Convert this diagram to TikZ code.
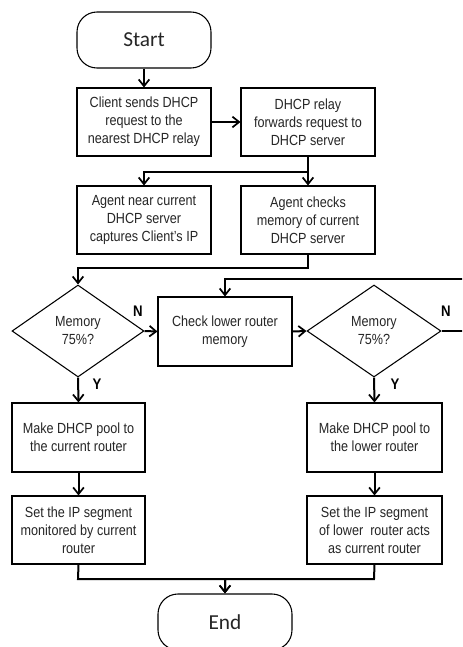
\documentclass[tikz,border=0pt]{standalone}
\usepackage{fontspec}
\setmainfont{Liberation Sans}[FakeStretch=0.86]
\newfontfamily\termfont{Carlito}
\usetikzlibrary{shapes.geometric,arrows.meta}
\begin{document}
\begin{tikzpicture}[x=0.75pt,y=-0.75pt,
  every node/.style={font=\fontsize{11}{13.5}\selectfont, text=black!85},
  procbox/.style={draw, line width=0.8pt, rectangle, minimum width=100.5pt, minimum height=51pt, align=center, inner sep=0pt},
  termbox/.style={draw, line width=0.8pt, rectangle, rounded corners=15pt, minimum width=100.5pt, minimum height=42pt, inner sep=0pt, font=\termfont\fontsize{16}{18}\selectfont},
  decbox/.style={draw, line width=0.8pt, diamond, aspect=1.43, minimum width=99pt, minimum height=69pt, align=center, inner sep=0pt},
  flow/.style={line width=1.5pt, -{Straight Barb[length=5pt,width=8pt,line width=1.3pt]}},
  yn/.style={font=\bfseries\fontsize{11.5}{13}\selectfont, text=black}]
\useasboundingbox (0,0) rectangle (462,647);
\clip (0,0) rectangle (462,647);
\fill[white] (0,0) rectangle (462,647);

\node[termbox] (start) at (144,40) {Start};
\node[procbox] (b1) at (144,122) {Client sends DHCP\\request to the\\nearest DHCP relay};
\node[procbox] (b2) at (308,122) {DHCP relay\\forwards request to\\DHCP server};
\node[procbox] (b3) at (144,220) {Agent near current\\DHCP server\\captures Client’s IP};
\node[procbox] (b4) at (308,220) {Agent checks\\memory of current\\DHCP server};
\node[decbox] (d1) at (78,331) {Memory\\75\%?};
\node[procbox, minimum height=51.75pt] (chk) at (225,331.5) {Check lower router\\memory};
\node[decbox, minimum width=100.5pt] (d2) at (374,331) {Memory\\75\%?};
\node[procbox, minimum width=99.75pt, minimum height=51.75pt] (b5) at (78.5,437.5) {Make DHCP pool to\\the current router};
\node[procbox, minimum width=101.25pt, minimum height=51.75pt] (b6) at (374.5,437.5) {Make DHCP pool to\\the lower router};
\node[procbox, minimum width=99.75pt] (b7) at (78.5,530) {Set the IP segment\\monitored by current\\router};
\node[procbox, minimum width=101.25pt] (b8) at (374.5,530) {Set the IP segment\\of lower\ \ router acts\\as current router};
\node[termbox] (end) at (225,622) {End};

\node[yn] (n1) at (138,311) {N};
\node[yn] (n2) at (446,311) {N};
\node[yn] (y1) at (97,384) {Y};
\node[yn] (y2) at (395,384) {Y};

\coordinate (j1) at (308,172);
\coordinate (j2) at (308,268);
\coordinate (r1) at (472,331);
\coordinate (r2) at (472,279);
\coordinate (j3) at (78,579);
\coordinate (j4) at (374,579);

\draw[flow] (start) -- (b1);
\draw[flow] (b1) -- (b2);
\draw[flow] (b2) -- (b4);
\draw[flow] (j1) -| (b3.north);
\draw[flow] (b4.south) -- (j2) -| (d1.north);
\draw[flow] (d1.east) -- (chk.west);
\draw[flow] (chk.east) -- (d2.west);
\draw[flow] (d2.east) -- (r1) -- (r2) -| (chk.north);
\draw[flow] (d1.south) -- (b5.north);
\draw[flow] (d2.south) -- (b6.north);
\draw[flow] (b5) -- (b7);
\draw[flow] (b6) -- (b8);
\draw[flow] (b7.south) -- (j3) -| (end.north);
\draw[flow] (b8.south) -- (j4) -| (end.north);
\end{tikzpicture}
\end{document}
